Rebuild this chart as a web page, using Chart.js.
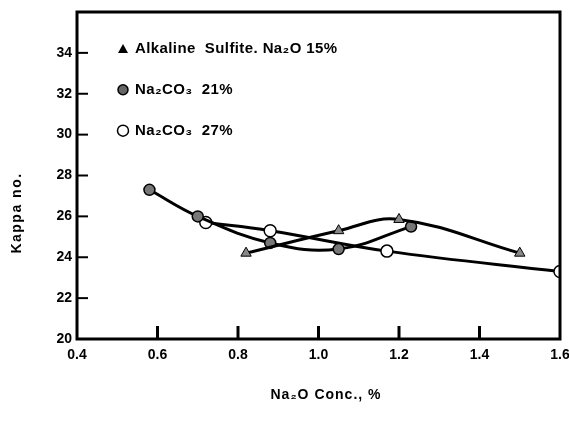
<!DOCTYPE html>
<html>
<head>
<meta charset="utf-8">
<script src="https://cdn.jsdelivr.net/npm/chart.js@4/dist/chart.umd.min.js"></script>
<style>
  html, body { margin: 0; padding: 0; background: #fff; }
  #wrap { width: 569px; height: 423px; }
</style>
</head>
<body>
<div id="wrap"><canvas id="graph" width="569" height="423"></canvas></div>
<script>
// values
var sulfiteX = [0.82, 1.05, 1.20, 1.50];
var sulfiteY = [24.2, 25.3, 25.85, 24.2];

var carb21X = [0.58, 0.70, 0.88, 1.05, 1.23];
var carb21Y = [27.3, 26.0, 24.7, 24.4, 25.5];

var carb27X = [0.72, 0.88, 1.17, 1.60];
var carb27Y = [25.7, 25.3, 24.3, 23.3];

var xTicks = [0.4, 0.6, 0.8, 1.0, 1.2, 1.4, 1.6];
var yTicks = [20, 22, 24, 26, 28, 30, 32, 34];

var seriesNames = ['Alkaline  Sulfite. Na\u2082O 15%', 'Na\u2082CO\u2083  21%', 'Na\u2082CO\u2083  27%'];

function pts(xs, ys) {
    return xs.map(function (x, i) { return { x: x, y: ys[i] }; });
}

var FONT = 'Liberation Sans';

var frame = {
    id: 'frame',
    afterDraw: function (chart) {
        var c = chart.ctx, a = chart.chartArea;
        var xs = chart.scales.x, ys = chart.scales.y;
        c.save();
        c.strokeStyle = '#000';
        c.lineWidth = 3;
        c.strokeRect(a.left, a.top, a.right - a.left, a.bottom - a.top);
        // inward ticks
        c.lineWidth = 3;
        xTicks.slice(1, -1).forEach(function (v) {
            var px = xs.getPixelForValue(v);
            c.beginPath(); c.moveTo(px, a.bottom); c.lineTo(px, a.bottom - 13); c.stroke();
        });
        c.lineWidth = 2;
        yTicks.slice(1).forEach(function (v) {
            var py = ys.getPixelForValue(v);
            c.beginPath(); c.moveTo(a.left, py); c.lineTo(a.left + 11, py); c.stroke();
        });
        // legend
        var lx = 123;
        var ly = [ys.getPixelForValue(34) - 4, ys.getPixelForValue(32) - 4, ys.getPixelForValue(30) - 4];
        c.fillStyle = '#000';
        c.beginPath();
        c.moveTo(lx, ly[0] - 5); c.lineTo(lx + 5, ly[0] + 4); c.lineTo(lx - 5, ly[0] + 4); c.closePath();
        c.fill();
        c.beginPath(); c.arc(lx, ly[1], 5, 0, Math.PI * 2);
        c.fillStyle = '#666'; c.fill(); c.lineWidth = 1.5; c.stroke();
        c.beginPath(); c.arc(lx, ly[2], 5.5, 0, Math.PI * 2);
        c.fillStyle = '#fff'; c.fill(); c.lineWidth = 1.5; c.stroke();
        c.fillStyle = '#000';
        c.font = 'bold 15px "' + FONT + '"';
        c.letterSpacing = '0.4px';
        c.textBaseline = 'middle';
        c.textAlign = 'left';
        seriesNames.forEach(function (s, i) { c.fillText(s, lx + 12, ly[i]); });
        // axis titles
        c.textAlign = 'center';
        c.font = 'bold 14px "' + FONT + '"';
        c.letterSpacing = '1px';
        c.fillText('Na\u2082O Conc., %', 326, 395);
        c.translate(17, 213);
        c.rotate(-Math.PI / 2);
        c.letterSpacing = '1.5px';
        c.fillText('Kappa no.', 0, 0);
        c.restore();
    }
};

var ctx = document.getElementById('graph');
var graph = new Chart(ctx, {
    type: 'scatter',
    data: {
        datasets: [{
            label: seriesNames[0],
            data: pts(sulfiteX, sulfiteY),
            showLine: true,
            tension: 0.4,
            borderColor: '#000',
            borderWidth: 3,
            pointStyle: 'triangle',
            pointRadius: 6,
            pointBackgroundColor: '#888',
            pointBorderColor: '#000',
            pointBorderWidth: 1
        }, {
            label: seriesNames[1],
            data: pts(carb21X, carb21Y),
            showLine: true,
            tension: 0.4,
            borderColor: '#000',
            borderWidth: 3,
            pointStyle: 'circle',
            pointRadius: 5.5,
            pointBackgroundColor: '#777',
            pointBorderColor: '#000',
            pointBorderWidth: 1.5
        }, {
            label: seriesNames[2],
            data: pts(carb27X, carb27Y),
            showLine: true,
            tension: 0.4,
            borderColor: '#000',
            borderWidth: 3,
            pointStyle: 'circle',
            pointRadius: 6,
            pointBackgroundColor: '#fff',
            pointBorderColor: '#000',
            pointBorderWidth: 1.5
        }]
    },
    options: {
        responsive: false,
        animation: false,
        layout: { padding: { left: 0, right: 9, top: 12, bottom: 0 } },
        plugins: { legend: { display: false }, tooltip: { enabled: false } },
        scales: {
            x: {
                type: 'linear',
                min: 0.4,
                max: 1.6,
                afterBuildTicks: function (s) { s.ticks = xTicks.map(function (v) { return { value: v }; }); },
                afterFit: function (s) { s.height = 84; s.paddingLeft = 0; s.paddingRight = 0; },
                grid: { display: false, drawTicks: false },
                border: { display: false },
                ticks: {
                    color: '#000',
                    padding: 8,
                    font: { family: FONT, size: 14, weight: 'bold' },
                    callback: function (v) { return v.toFixed(1); }
                }
            },
            y: {
                min: 20,
                max: 36,
                afterBuildTicks: function (s) { s.ticks = yTicks.map(function (v) { return { value: v }; }); },
                afterFit: function (s) { s.width = 77; s.paddingTop = 0; s.paddingBottom = 0; },
                grid: { display: false, drawTicks: false },
                border: { display: false },
                ticks: {
                    color: '#000',
                    padding: 5,
                    font: { family: FONT, size: 14, weight: 'bold' }
                }
            }
        }
    },
    plugins: [frame]
});
</script>
</body>
</html>
